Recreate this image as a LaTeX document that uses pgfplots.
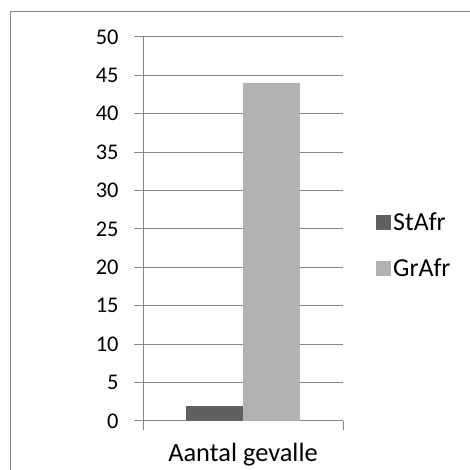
\documentclass[border=0pt]{standalone}
\usepackage{pgfplots}
\pgfplotsset{compat=1.18}
\usepackage{fontspec}
\setmainfont{Carlito}
\definecolor{gridc}{RGB}{134,134,134}
\definecolor{stafr}{RGB}{96,96,96}
\definecolor{grafr}{RGB}{178,178,178}
\begin{document}
\begin{tikzpicture}[x=1bp,y=1bp]
\useasboundingbox (0,0) rectangle (470,470);
% chart area frame (left and top edges)
\draw[gridc, line width=1bp] (10,-5) -- (10,458) -- (475,458);
\begin{axis}[
  at={(143bp,49bp)}, anchor=south west,
  scale only axis, width=200bp, height=384bp,
  xmin=-0.5, xmax=0.5, ymin=0, ymax=50,
  ytick={0,5,...,50},
  xtick={-0.5,0.5}, xticklabels={},
  axis x line=bottom, axis y line=left,
  axis line style={-, gridc, line width=1bp},
  tick style={gridc, line width=1bp},
  tick align=outside, major tick length=9bp,
  ymajorgrids, grid style={gridc, line width=1bp},
  /pgf/number format/assume math mode=true,
  yticklabel style={font=\fontsize{22.5}{26}\selectfont, anchor=east, xshift=-12bp},
  xlabel={Aantal gevalle},
  xlabel style={font=\fontsize{26.5}{30}\selectfont, at={(0.5,0)}, anchor=north, yshift=-19bp},
  legend style={at={(1.15,0.458)}, anchor=west, draw=none, fill=none,
    font=\fontsize{26}{30}\selectfont, row sep=23bp, cells={anchor=west}},
  legend image code/.code={\fill[#1] (0bp,-7.5bp) rectangle (15bp,7.5bp);},
]
\addplot[ybar, bar width=0.285, bar shift=-0.1425, fill=stafr, draw=none] coordinates {(0,2)};
\addplot[ybar, bar width=0.285, bar shift=0.1425, fill=grafr, draw=none] coordinates {(0,44)};
\legend{StAfr, GrAfr}
\end{axis}
\end{tikzpicture}
\end{document}
